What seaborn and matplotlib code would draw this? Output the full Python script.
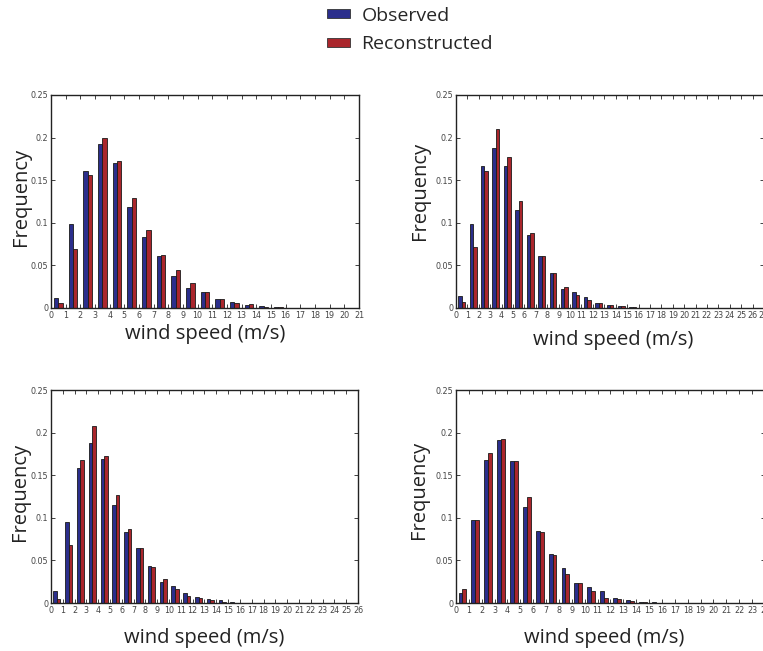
import numpy as np
import pandas as pd
import matplotlib.pyplot as plt
import seaborn as sns
from matplotlib.patches import Patch

SERIES = ["Observed", "Reconstructed"]
COLORS = ["#2B2E8C", "#AA262C"]

# frequencies per 1 m/s bin
obs_tl = [0.012, 0.098, 0.161, 0.192, 0.170, 0.118, 0.083, 0.061, 0.038, 0.024, 0.019,
          0.011, 0.0067, 0.004, 0.0024, 0.0012, 0.0005, 0.0002, 0.0001, 0.0, 0.0]
rec_tl = [0.006, 0.069, 0.156, 0.200, 0.172, 0.129, 0.092, 0.062, 0.044, 0.029, 0.019,
          0.010, 0.006, 0.0043, 0.0016, 0.0008, 0.0004, 0.0002, 0.0001, 0.0, 0.0]

obs_tr = [0.0137, 0.099, 0.1665, 0.188, 0.1665, 0.115, 0.086, 0.061, 0.041, 0.022, 0.019,
          0.0125, 0.006, 0.004, 0.002, 0.001, 0.0004, 0.0002, 0.0001,
          0.0, 0.0, 0.0, 0.0, 0.0, 0.0, 0.0, 0.0]
rec_tr = [0.0067, 0.072, 0.161, 0.210, 0.1775, 0.125, 0.088, 0.061, 0.041, 0.025, 0.015,
          0.009, 0.0055, 0.003, 0.002, 0.0008, 0.0005, 0.0002, 0.0001,
          0.0, 0.0, 0.0, 0.0, 0.0, 0.0, 0.0, 0.0]

obs_bl = [0.014, 0.095, 0.158, 0.188, 0.169, 0.115, 0.083, 0.064, 0.0435, 0.0247, 0.020,
          0.012, 0.007, 0.0043, 0.003, 0.0012, 0.0004, 0.0002, 0.0001,
          0.0, 0.0, 0.0, 0.0, 0.0, 0.0, 0.0]
rec_bl = [0.0043, 0.068, 0.168, 0.208, 0.172, 0.1266, 0.087, 0.064, 0.042, 0.028, 0.0165,
          0.0078, 0.0055, 0.003, 0.001, 0.0005, 0.0006, 0.0002, 0.0001,
          0.0, 0.0, 0.0, 0.0, 0.0, 0.0, 0.0]

obs_br = [0.0114, 0.098, 0.168, 0.191, 0.1665, 0.1125, 0.085, 0.0576, 0.041, 0.024, 0.0184,
          0.0137, 0.0059, 0.004, 0.0016, 0.0012, 0.0004, 0.0002,
          0.0, 0.0, 0.0, 0.0, 0.0, 0.0]
rec_br = [0.0165, 0.097, 0.1755, 0.193, 0.167, 0.124, 0.0835, 0.0564, 0.0345, 0.024, 0.0137,
          0.0059, 0.005, 0.002, 0.0012, 0.0004, 0.0004, 0.0001,
          0.0, 0.0, 0.0, 0.0, 0.0, 0.0]

YTICKS = [0, 0.05, 0.1, 0.15, 0.2, 0.25]
YTICKLABELS = ["0", "0.05", "0.1", "0.15", "0.2", "0.25"]

TICK_FONT = ["Liberation Sans Narrow", "DejaVu Sans"]
LABEL_FONT = ["Open Sans", "DejaVu Sans"]


def main():
    sns.set_style("ticks")

    fig = plt.figure(figsize=(7.63, 6.51), dpi=100)

    # rect, ylabel (x, y), xlabel (x, y) in axes coords
    panels = [
        (obs_tl, rec_tl, [0.0668, 0.5269, 0.4037, 0.3272], (-0.065, 0.52), (0.5, -0.075)),
        (obs_tr, rec_tr, [0.5976, 0.5269, 0.4037, 0.3272], (-0.084, 0.55), (0.51, -0.105)),
        (obs_bl, rec_bl, [0.0668, 0.0737, 0.4024, 0.3272], (-0.068, 0.52), (0.5, -0.115)),
        (obs_br, rec_br, [0.5976, 0.0737, 0.4050, 0.3272], (-0.087, 0.53), (0.48, -0.115)),
    ]

    for obs, rec, rect, ylab_pos, xlab_pos in panels:
        n = len(obs)
        df = pd.DataFrame({
            "bin": list(range(n)) * 2,
            "freq": obs + rec,
            "series": [SERIES[0]] * n + [SERIES[1]] * n,
        })
        ax = fig.add_axes(rect)
        sns.barplot(data=df, x="bin", y="freq", hue="series", hue_order=SERIES,
                    palette=COLORS, saturation=1, width=0.6, gap=0,
                    edgecolor="#1a1a1a", linewidth=0.6, legend=False, ax=ax)

        ax.set_xlim(-0.5, n - 0.5)
        ax.set_xticks(np.arange(n + 1) - 0.5)
        ax.set_xticklabels([str(i) for i in range(n + 1)])
        ax.set_ylim(0, 0.25)
        ax.set_yticks(YTICKS)
        ax.set_yticklabels(YTICKLABELS)

        ax.tick_params(direction="in", top=True, right=True, length=3, width=0.6,
                       labelsize=5.8, pad=2, colors="#222222")
        for lbl in ax.get_xticklabels() + ax.get_yticklabels():
            lbl.set_fontfamily(TICK_FONT)
            lbl.set_color("#444444")
        for sp in ax.spines.values():
            sp.set_visible(True)
            sp.set_linewidth(1.0)
            sp.set_color("#222222")

        ax.set_xlabel("wind speed (m/s)", fontsize=14.5, family=LABEL_FONT, color="#222222")
        ax.set_ylabel("Frequency", fontsize=14.5, family=LABEL_FONT, color="#222222")
        ax.xaxis.set_label_coords(*xlab_pos)
        ax.yaxis.set_label_coords(*ylab_pos)

    handles = [Patch(facecolor=c, edgecolor="#333333", linewidth=0.6, label=s)
               for s, c in zip(SERIES, COLORS)]
    fig.legend(handles=handles, loc="upper left", bbox_to_anchor=(0.4286, 0.990),
               frameon=False, prop={"family": LABEL_FONT, "size": 14},
               borderaxespad=0, borderpad=0,
               handlelength=1.2, handleheight=0.36, labelspacing=0.55, handletextpad=0.57)

    fig.savefig("out.png", dpi=100)


if __name__ == "__main__":
    main()
